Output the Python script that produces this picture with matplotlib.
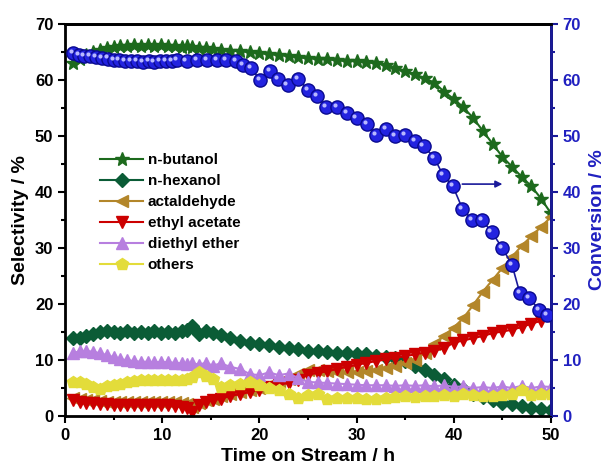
import numpy as np
import matplotlib.pyplot as plt
from matplotlib.ticker import MultipleLocator
from matplotlib.transforms import offset_copy

plt.rcParams['font.family'] = ['Liberation Sans', 'DejaVu Sans']
plt.rcParams['font.weight'] = 'bold'

# time grid for the selectivity series (h)
sel_x = [0.8, 1.5, 2.2, 2.9, 3.6, 4.3, 5.0, 5.7, 6.4, 7.1, 7.8, 8.5, 9.2, 9.9, 10.6, 11.3,
         12.0, 12.6, 13.1, 13.8, 14.5, 15.2,
         16, 17, 18, 19, 20, 21, 22, 23, 24, 25, 26, 27, 28, 29, 30, 31, 32, 33, 34, 35,
         36, 37, 38, 39, 40, 41, 42, 43, 44, 45, 46, 47, 48, 49, 50]

butanol = [63.0, 63.8, 64.5, 65.0, 65.3, 65.6, 65.8, 66.0, 66.1, 66.2, 66.0, 66.2, 66.1, 66.2,
           66.0, 66.1, 65.9, 66.0, 65.9, 65.7, 65.6, 65.5,
           65.4, 65.2, 65.1, 65.0, 64.8, 64.6, 64.5, 64.3, 64.0, 63.9, 63.8, 63.7, 63.5, 63.4,
           63.3, 63.1, 63.0, 62.7, 62.2, 61.6, 61.0, 60.3, 59.5, 57.9, 56.6, 55.1, 53.2, 50.9,
           48.6, 46.3, 44.5, 42.7, 41.0, 38.8, 36.2]
hexanol = [13.9, 14.0, 14.3, 14.7, 15.0, 15.2, 15.0, 14.9, 15.1, 14.8, 15.0, 14.9, 15.1, 14.9,
           15.0, 14.9, 15.1, 15.3, 16.0, 14.6, 15.1, 14.9,
           14.4, 14.0, 13.4, 13.0, 12.8, 12.6, 12.4, 12.2, 12.0, 11.7, 11.6, 11.5, 11.3, 11.2,
           11.0, 11.0, 10.8, 10.6, 10.3, 9.8, 9.0, 8.3, 7.4, 6.6, 5.6, 4.8, 4.0, 3.4,
           2.8, 2.4, 2.1, 1.8, 1.5, 1.3, 1.0]
actaldehyde = [3.2, 3.0, 2.9, 2.8, 2.7, 2.6, 2.6, 2.5, 2.6, 2.5, 2.6, 2.5, 2.6, 2.5,
               2.6, 2.5, 2.4, 2.2, 1.6, 2.3, 2.8, 3.1,
               3.5, 4.0, 4.3, 4.7, 5.1, 5.5, 6.0, 6.6, 7.6, 8.2, 8.3, 8.0, 7.8, 7.8,
               7.9, 8.0, 8.2, 8.5, 9.0, 9.4, 10.0, 11.3, 12.8, 14.3, 15.8, 17.5, 19.8, 22.2,
               24.3, 26.4, 28.4, 30.4, 32.1, 33.8, 35.5]
ethyl_acetate = [2.9, 2.6, 2.4, 2.3, 2.2, 2.1, 2.0, 2.0, 1.9, 2.0, 1.9, 2.0, 1.9, 2.0,
                 1.9, 1.8, 1.7, 1.5, 0.8, 1.9, 2.5, 2.8,
                 3.1, 3.6, 3.9, 4.3, 4.7, 5.2, 5.6, 5.9, 6.4, 7.4, 7.7, 8.0, 8.4, 8.8,
                 9.1, 9.5, 9.8, 10.1, 10.4, 10.7, 11.0, 11.3, 11.7, 12.1, 13.1, 13.5, 13.9, 14.3,
                 14.8, 15.1, 15.4, 15.9, 16.5, 17.0, 17.5]
diethyl_ether = [11.2, 11.6, 11.6, 11.5, 11.2, 10.9, 10.5, 10.1, 10.0, 9.8, 9.7, 9.7, 9.6, 9.7,
                 9.6, 9.5, 9.4, 9.3, 9.4, 9.2, 9.5, 9.0,
                 9.4, 8.8, 8.4, 7.5, 7.3, 7.8, 7.3, 7.6, 6.8, 6.1, 6.0, 5.9, 5.8, 5.7,
                 5.6, 5.5, 5.5, 5.5, 5.4, 5.5, 5.4, 5.5, 5.3, 5.5, 5.2, 5.3, 5.0, 5.2,
                 5.0, 5.3, 5.0, 5.4, 5.0, 5.3, 5.2]
others = [6.1, 6.1, 5.8, 5.2, 4.9, 5.3, 5.6, 5.8, 6.0, 6.3, 6.4, 6.4, 6.5, 6.4,
          6.4, 6.5, 6.4, 6.6, 6.9, 7.9, 7.2, 6.7,
          5.2, 5.5, 5.8, 6.0, 5.5, 5.1, 4.6, 4.0, 3.3, 3.7, 4.0, 3.0, 3.2, 3.3,
          3.3, 3.1, 3.0, 3.2, 3.4, 3.5, 3.4, 3.6, 3.5, 3.8, 3.6, 3.9, 3.7, 3.5,
          3.6, 3.8, 4.0, 4.6, 3.8, 4.0, 3.9]

# ethanol conversion
conv_x = [0.8, 1.4, 2.0, 2.6, 3.2, 3.8, 4.4, 5.0, 5.6, 6.2, 6.8, 7.4, 8.0, 8.6, 9.2, 9.8, 10.4, 11.0,
          11.5, 12.5, 13.6, 14.6, 15.6, 16.6, 17.6, 18.3,
          19.1, 20.1, 21.1, 21.9, 22.9, 24.0, 25.0, 25.9, 26.9, 28.0,
          29.0, 30.0, 31.1, 32.0, 33.0, 34.0, 35.0, 36.0, 36.9, 38.0,
          38.9, 39.9, 40.9, 41.9, 42.9, 43.9, 45.0, 46.0, 46.8, 47.8, 48.8, 49.6]
conv_y = [64.8, 64.5, 64.3, 64.2, 64.0, 63.9, 63.8, 63.6, 63.5, 63.4, 63.3, 63.4, 63.2, 63.3, 63.2, 63.3, 63.3, 63.4,
          63.5, 63.4, 63.6, 63.5, 63.6, 63.5, 63.4, 62.7,
          62.1, 60.0, 61.5, 60.2, 59.1, 60.2, 58.2, 57.1, 55.2, 55.2,
          54.1, 53.2, 52.1, 50.2, 51.2, 50.0, 50.2, 49.1, 48.2, 46.1,
          43.0, 41.1, 37.0, 35.0, 35.0, 32.9, 30.0, 27.0, 22.0, 21.1, 18.9, 18.0]

fig = plt.figure(figsize=(6.08, 4.67), dpi=100)
ax = fig.add_axes([0.107, 0.109, 0.799, 0.840])

series = [
    ('n-butanol', butanol, '#1d6a1d', '*', 10),
    ('n-hexanol', hexanol, '#0b5c36', 'D', 7),
    ('actaldehyde', actaldehyde, '#b3862a', '<', 8),
    ('ethyl acetate', ethyl_acetate, '#cc0000', 'v', 8),
    ('diethyl ether', diethyl_ether, '#b77fdf', '^', 8),
    ('others', others, '#e3dc3a', 'p', 9),
]
for name, vals, col, mk, ms in series:
    ax.plot(sel_x, vals, color=col, marker=mk, ms=ms, lw=1.5, mec=col, mfc=col, label=name)

ax.set_xlim(0, 50)
ax.set_ylim(0, 70)
ax.xaxis.set_major_locator(MultipleLocator(10))
ax.xaxis.set_minor_locator(MultipleLocator(5))
ax.yaxis.set_major_locator(MultipleLocator(10))
ax.yaxis.set_minor_locator(MultipleLocator(5))
ax.tick_params(which='major', direction='out', length=5, width=1.5, labelsize=12)
ax.tick_params(which='minor', direction='out', length=3, width=1.5)
for s in ax.spines.values():
    s.set_linewidth(2)
ax.set_xlabel('Time on Stream / h', fontsize=14, fontweight='bold', labelpad=4)
ax.set_ylabel('Selectivity / %', fontsize=14, fontweight='bold', labelpad=4)

ax2 = ax.twinx()
blue = '#1a1a9a'
ax2.plot(conv_x, conv_y, color=blue, lw=1.2, marker='o', ms=9.5, mfc='#2323e0', mec='#0a0a90', zorder=3)
# small highlight on each sphere
hl = offset_copy(ax2.transData, fig=fig, x=-1.5, y=1.5, units='points')
ax2.plot(conv_x, conv_y, ls='none', marker='o', ms=3, mfc='#b8b8ff', mec='none',
         transform=hl, zorder=4)
ax2.set_ylim(0, 70)
ax2.yaxis.set_major_locator(MultipleLocator(10))
ax2.yaxis.set_minor_locator(MultipleLocator(5))
ax2.tick_params(which='major', direction='out', length=5, width=1.5, labelsize=12, colors=blue)
ax2.tick_params(which='minor', direction='out', length=3, width=1.5, colors=blue)
for lab in ax2.get_yticklabels():
    lab.set_color('#2020c0')
ax2.spines['right'].set_color(blue)
ax2.spines['right'].set_linewidth(2)
ax2.spines['top'].set_linewidth(2)
ax2.set_ylabel('Conversion / %', fontsize=14, fontweight='bold', color='#2020c0', labelpad=6)
ax2.annotate('', xy=(45.3, 41.4), xytext=(40.6, 41.4),
             arrowprops=dict(arrowstyle='-|>', color=blue, lw=1.2, mutation_scale=10))

ax.legend(loc='upper left', bbox_to_anchor=(0.06, 0.685), frameon=False, fontsize=11,
          handlelength=2.8, handletextpad=0.3, labelspacing=0.45, borderaxespad=0)

fig.savefig('out.png', dpi=100)
